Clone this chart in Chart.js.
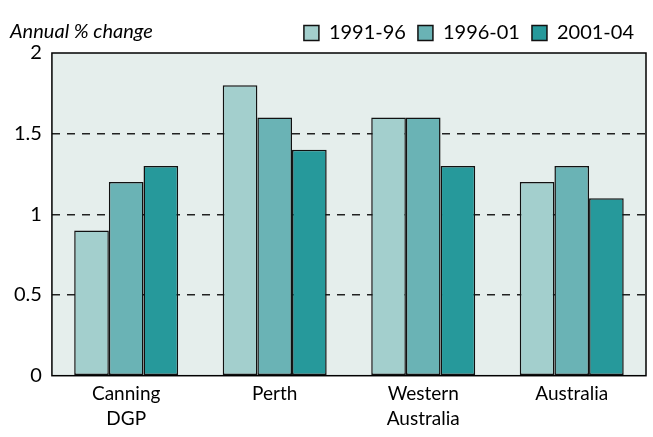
<!DOCTYPE html>
<html>
<head>
<meta charset="utf-8">
<script src="https://cdn.jsdelivr.net/npm/chart.js@4"></script>
<style>
  html, body { margin: 0; padding: 0; background: #fff; }
  #wrap { width: 653px; height: 437px; }
</style>
</head>
<body>
<div id="wrap"><canvas id="chart"></canvas></div>
<script>
const categories = [['Canning', 'DGP'], 'Perth', ['Western', 'Australia'], 'Australia'];
const periods = ['1991-96', '1996-01', '2001-04'];
const values9196 = [0.9, 1.8, 1.6, 1.2];
const values9601 = [1.2, 1.6, 1.6, 1.3];
const values0104 = [1.3, 1.4, 1.3, 1.1];
const yTicks = [0, 0.5, 1, 1.5, 2];
const colours = ['#a3cfcd', '#6ab3b5', '#26999b'];

const FONT = 'Lato, "Open Sans", sans-serif';

// plot background + frame + unit label
const chartDecor = {
    id: 'chartDecor',
    beforeDraw(chart) {
        const { ctx, chartArea: a } = chart;
        ctx.save();
        ctx.fillStyle = '#e5eeec';
        ctx.fillRect(a.left, a.top, a.right - a.left, a.bottom - a.top);
        ctx.restore();
    },
    afterDraw(chart) {
        const { ctx, chartArea: a } = chart;
        ctx.save();
        ctx.strokeStyle = '#000';
        ctx.lineWidth = 1.5;
        ctx.strokeRect(a.left, a.top, a.right - a.left, a.bottom - a.top);
        ctx.font = 'italic 20px ' + FONT;
        ctx.fillStyle = '#000';
        ctx.textBaseline = 'alphabetic';
        ctx.fillText('Annual % change', 10, 38);
        ctx.restore();
    }
};

const ctx = document.getElementById('chart').getContext('2d');
new Chart(ctx, {
    type: 'bar',
    data: {
        labels: categories,
        datasets: [values9196, values9601, values0104].map((vals, i) => ({
            label: periods[i],
            data: vals,
            backgroundColor: colours[i],
            borderColor: '#111',
            borderWidth: 1.5,
            borderSkipped: false
        }))
    },
    options: {
        responsive: true,
        maintainAspectRatio: false,
        animation: false,
        layout: { padding: { left: 4, right: 7, top: 11, bottom: 0 } },
        datasets: {
            bar: { categoryPercentage: 0.7, barPercentage: 1.0 }
        },
        plugins: {
            legend: {
                position: 'top',
                align: 'end',
                labels: {
                    boxWidth: 15,
                    boxHeight: 15,
                    padding: 12,
                    color: '#000',
                    font: { family: FONT, size: 20 }
                }
            },
            tooltip: { enabled: false }
        },
        scales: {
            x: {
                grid: { display: false, drawTicks: false },
                border: { display: false },
                ticks: {
                    color: '#000',
                    font: { family: FONT, size: 19, lineHeight: 1.35 },
                    padding: 5,
                    maxRotation: 0
                }
            },
            y: {
                min: 0,
                max: 2,
                afterBuildTicks(axis) {
                    axis.ticks = yTicks.map(v => ({ value: v }));
                },
                grid: {
                    color: ctx => (ctx.tick.value === 0 || ctx.tick.value === 2) ? 'rgba(0,0,0,0)' : '#222',
                    lineWidth: 1.5,
                    drawTicks: false
                },
                border: { display: false, dash: [8, 7] },
                ticks: {
                    color: '#000',
                    font: { family: FONT, size: 20 },
                    padding: 10,
                    callback: v => String(v)
                }
            }
        }
    },
    plugins: [chartDecor]
});
</script>
</body>
</html>
